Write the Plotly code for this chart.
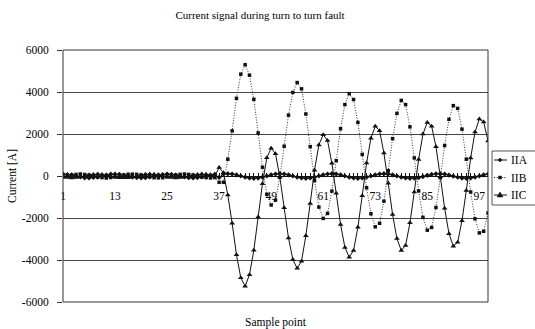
import plotly.graph_objects as go

# ---- data -------------------------------------------------------------
samples = list(range(1, 100))

i1a = [95, 70, 50, -5, -40, -85, -95, -70, -50, 5, 40, 85,
       88, 80, 40, 10, -50, -75, -85, -82, -40, -5, 50, 72,
       92, 75, 48, -8, -42, -80, -92, -74, -48, 4, 46, 80,
       -70,
       95, 110, 90, 55, 0, -55, -95, -110, -100, -55,
       0, 55, 95, 110, 95, 55, 0, -55, -95, -110, -95, -55,
       0, 55, 95, 110, 95, 55, 0, -55, -95, -110, -95, -55,
       0, 55, 95, 110, 95, 55, 0, -55, -95, -110, -100, -75,
       -25, 30, 75, 105, 110, 90, 45, -10, -60, -100, -110, -95,
       -55, 0, 55, 95]

i1b = [-40, 5, 50, 75, 95, 72, 40, 6, -50, -75, -95, -72,
       -48, -4, 44, 82, 86, 80, 50, -6, -40, -82, -88, -80,
       -42, 4, 48, 76, 94, 74, 42, -2, -48, -78, -92, -76,
       -300, -300,
       800, 2150, 3700, 4850, 5300, 4800, 3650, 2050, 420, -870,
       -1380, -1150, -60, 1420, 2900, 3980, 4450, 4150, 2950, 1400,
       -220, -1480, -2020, -1780, -720, 730, 2250, 3400, 3920, 3640,
       2550, 1030, -560, -1800, -2420, -2250, -1200, 250, 1780, 2980,
       3600, 3400, 2340, 860, -710, -1970, -2580, -2450, -1500, -80,
       1450, 2700, 3350, 3220, 2230, 800, -760, -2040, -2710, -2630,
       -1760]

i1c = [-50, -72, -95, -76, -48, 4, 52, 72, 96, 76, 46, -6,
       -42, -80, -86, -82, -42, 2, 46, 80, 90, 78, 40, 6,
       -50, -74, -94, -76, -46, 2, 50, 74, 92, 80, 44, 2,
       400, 155,
       -910, -2245, -3755, -4850, -5245, -4705, -3540, -1955, -365, 870,
       1325, 1055, -50, -1515, -2955, -3980, -4395, -4055, -2840, -1305,
       275, 1480, 1965, 1685, 610, -825, -2305, -3400, -3865, -3545,
       -2440, -935, 615, 1800, 2365, 2155, 1090, -345, -1835, -2980,
       -3545, -3305, -2230, -760, 785, 1995, 2550, 2375, 1395, -30,
       -1540, -2745, -3340, -3160, -2130, -690, 855, 2095, 2710, 2575,
       1665]

series_names = ["IIA", "IIB", "IIC"]
x_ticks = [1, 13, 25, 37, 49, 61, 73, 85, 97]
y_ticks = [-6000, -4000, -2000, 0, 2000, 4000, 6000]
y_labels = ["-6000", "-4000", "-2000", "0", "2000", "4000", "6000"]

# ---- layout geometry ---------------------------------------------------
W, H = 535, 329
L, R, T, B = 63, 47, 50, 27
PW, PH = W - L - R, H - T - B
FONT = "Liberation Serif"
INK = "#111111"
DOTS = "1px,1.6px"


def fx(px):
    return (px - L) / PW


def fy(py):
    return (H - B - py) / PH


styles = [
    dict(line=dict(color=INK, width=1), marker=dict(symbol="diamond", size=4, color=INK)),
    dict(line=dict(color="#333333", width=1, dash=DOTS), marker=dict(symbol="square", size=3.5, color=INK)),
    dict(line=dict(color=INK, width=1), marker=dict(symbol="triangle-up", size=5, color=INK)),
]

fig = go.Figure()
for name, vals, st in zip(series_names, [i1a, i1b, i1c], styles):
    fig.add_trace(go.Scatter(x=samples, y=vals, mode="lines+markers", name=name,
                             showlegend=False, **st))

shapes = [dict(type="rect", xref="paper", yref="paper", x0=0, y0=0, x1=1, y1=1,
               line=dict(color="#333333", width=1), layer="above")]
annotations = [
    dict(text="Current [A]", xref="paper", yref="paper", x=fx(12), y=0.5,
         textangle=-90, showarrow=False, font=dict(family=FONT, size=11.5, color="black"),
         xanchor="center", yanchor="middle"),
    dict(text="Sample point", xref="paper", yref="paper", x=0.5, y=fy(322),
         showarrow=False, font=dict(family=FONT, size=11.5, color="black"),
         xanchor="center", yanchor="middle"),
]

# legend box with hand-placed entries
shapes.append(dict(type="rect", xref="paper", yref="paper", x0=fx(492), x1=fx(548),
                   y0=fy(205), y1=fy(151), line=dict(color="#555555", width=1),
                   fillcolor="white"))
entry_y = [160, 177.5, 195]
for i, (name, ey) in enumerate(zip(series_names, entry_y)):
    dash = DOTS if i == 1 else "solid"
    shapes.append(dict(type="line", xref="paper", yref="paper", x0=fx(494), x1=fx(507),
                       y0=fy(ey), y1=fy(ey), line=dict(color=INK, width=1, dash=dash)))
    if i == 0:
        path = "M{},{} L{},{} L{},{} L{},{} Z".format(fx(500), fy(ey - 2), fx(502), fy(ey),
                                                      fx(500), fy(ey + 2), fx(498), fy(ey))
    elif i == 1:
        path = "M{},{} L{},{} L{},{} L{},{} Z".format(fx(498.5), fy(ey - 1.5), fx(501.5), fy(ey - 1.5),
                                                      fx(501.5), fy(ey + 1.5), fx(498.5), fy(ey + 1.5))
    else:
        path = "M{},{} L{},{} L{},{} Z".format(fx(500), fy(ey - 3), fx(503), fy(ey + 2),
                                               fx(497), fy(ey + 2))
    shapes.append(dict(type="path", xref="paper", yref="paper", path=path,
                       fillcolor=INK, line=dict(color=INK, width=0.5)))
    annotations.append(dict(text=name, xref="paper", yref="paper", x=fx(509), y=fy(ey),
                            xanchor="left", yanchor="middle", showarrow=False,
                            font=dict(family=FONT, size=11.5, color="black")))

fig.update_layout(
    width=W, height=H,
    margin=dict(l=L, r=R, t=T, b=B),
    paper_bgcolor="white", plot_bgcolor="white",
    title=dict(text="Current signal during turn to turn fault", x=260 / W, y=1 - 15 / H,
               xref="container", yref="container", xanchor="center", yanchor="middle",
               font=dict(family=FONT, size=11, color="black")),
    xaxis=dict(range=[1, 99], tickmode="array", tickvals=x_ticks,
               ticktext=[str(v) for v in x_ticks],
               anchor="free", position=0.5, showline=True, linecolor=INK, linewidth=1,
               ticks="inside", ticklen=3, tickcolor=INK,
               minor=dict(tickmode="linear", tick0=1, dtick=1, ticks="inside", ticklen=3,
                          tickcolor=INK, showgrid=False),
               showgrid=False, zeroline=False, ticklabelstandoff=9,
               tickfont=dict(family=FONT, size=11.5, color="black")),
    yaxis=dict(range=[-6000, 6000], tickmode="array", tickvals=y_ticks, ticktext=y_labels,
               ticks="outside", ticklen=5, tickcolor="#333333",
               showgrid=True, gridcolor="#444444", gridwidth=1, zeroline=False,
               showline=False, ticklabelstandoff=6,
               tickfont=dict(family=FONT, size=11.5, color="black")),
    shapes=shapes,
    annotations=annotations,
)

fig.write_html("out.html")
